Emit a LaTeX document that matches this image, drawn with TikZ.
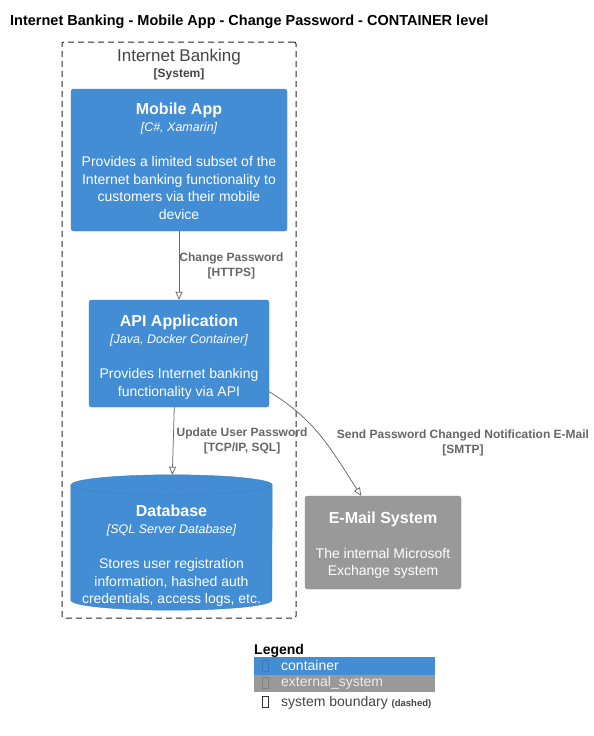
\documentclass[tikz,border=0pt]{standalone}
\usepackage{fontspec}
\setmainfont{Liberation Sans}
\usetikzlibrary{arrows.meta,positioning}

\definecolor{ctrfill}{HTML}{438DD5}
\definecolor{ctrline}{HTML}{3C7FC0}
\definecolor{extfill}{HTML}{999999}
\definecolor{extline}{HTML}{8A8A8A}
\definecolor{relgrey}{HTML}{666666}
\definecolor{bndgrey}{HTML}{444444}

\newcommand\boxtitle[1]{{\fontsize{16}{17.5}\selectfont\bfseries #1}}
\newcommand\boxtech[1]{{\fontsize{12.5}{17.5}\selectfont\itshape [#1]}}

\tikzset{
  container/.style={draw=ctrline, fill=ctrfill, rounded corners=2.5pt, inner sep=0pt},
  extsystem/.style={container, draw=extline, fill=extfill},
  boxtext/.style={text=white, align=center, inner sep=0pt, font=\fontsize{14}{17.5}\selectfont},
  rel/.style={color=relgrey, line width=0.75pt, -{Triangle[open, length=8pt, width=7pt]}},
  rellabel/.style={text=relgrey, align=center, inner sep=0pt,
    font=\fontsize{12}{15}\selectfont\bfseries},
  legrow/.style={minimum width=181pt, minimum height=17.5pt, inner sep=0pt, anchor=north west},
  legtext/.style={anchor=west, inner sep=0pt, font=\fontsize{14}{16}\selectfont},
  glyph/.style={draw, minimum width=6pt, minimum height=11pt, inner sep=0pt, line width=0.6pt},
}

\begin{document}
\begin{tikzpicture}[x=1pt, y=-1pt]
  \path[use as bounding box] (0,0) rectangle (594,736);

  \node[anchor=base west, inner sep=0pt, font=\fontsize{14.5}{16}\selectfont\bfseries] (title)
    at (10,25) {Internet Banking - Mobile App - Change Password - CONTAINER level};

  % system boundary
  \node[draw=black!85, line width=1pt, dash pattern=on 6pt off 4pt, rounded corners=2pt,
    minimum width=234pt, minimum height=576pt, inner sep=0pt] (ib) at (179,330) {};
  \node[anchor=base, inner sep=0pt, text=bndgrey, font=\fontsize{17}{18}\selectfont] (ibname)
    at (179,61) {Internet Banking};
  \node[anchor=base, inner sep=0pt, text=bndgrey, font=\fontsize{12}{14}\selectfont\bfseries] (ibtype)
    at (179,77) {[System]};

  % containers
  \node[container, minimum width=216pt, minimum height=142pt] (mobile) at (179,160) {};
  \node[boxtext] (mobiletext) at ([yshift=-1pt]mobile.center)
    {\boxtitle{Mobile App}\\ \boxtech{C\#, Xamarin}\\[17.5pt]
     Provides a limited subset of the\\ Internet banking functionality to\\
     customers via their mobile\\ device};

  \node[container, minimum width=180pt, minimum height=107pt] (api) at (179,353.5) {};
  \node[boxtext] (apitext) at ([yshift=-3.5pt]api.center)
    {\boxtitle{API Application}\\ \boxtech{Java, Docker Container}\\[17.5pt]
     Provides Internet banking\\ functionality via API};

  \node[minimum width=201pt, minimum height=135pt, inner sep=0pt] (db) at (171.5,542.5) {};
  \path[fill=ctrfill, draw=ctrline] ([yshift=-10pt]db.north west) -- ([yshift=10pt]db.south west)
    arc[start angle=180, end angle=360, x radius=100.5pt, y radius=10pt]
    -- ([yshift=-10pt]db.north east)
    arc[start angle=0, end angle=180, x radius=100.5pt, y radius=10pt] -- cycle;
  \draw[ctrline] ([yshift=-10pt]db.north west)
    arc[start angle=180, end angle=360, x radius=100.5pt, y radius=10pt];
  \node[boxtext] (dbtext) at ([yshift=-13pt]db.center)
    {\boxtitle{Database}\\ \boxtech{SQL Server Database}\\[17.5pt]
     Stores user registration\\ information, hashed auth\\ credentials, access logs, etc.};

  \node[extsystem, minimum width=156pt, minimum height=93pt] (email) at (383,542.5) {};
  \node[boxtext] (emailtext) at ([yshift=-2.5pt]email.center)
    {\boxtitle{E-Mail System}\\[17.5pt] The internal Microsoft\\ Exchange system};

  % relations
  \path[rel]
    (mobile) edge node[rellabel, anchor=west, midway] (lblhttps)
      {Change Password\\ {[HTTPS]}} (api)
    ([xshift=-4.7pt]api.south) edge node[rellabel, anchor=west, midway, xshift=3pt] (lblsql)
      {Update User Password\\ {[TCP/IP, SQL]}} ([xshift=0.8pt]db.north)
    (api.-23) edge[out=-31, in=123] (email.115)
  ;
  \node[rellabel] (lblsmtp) at (463,442.5)
    {Send Password Changed Notification E-Mail\\ {[SMTP]}};

  % legend
  \node[anchor=base west, inner sep=0pt, font=\fontsize{14}{16}\selectfont\bfseries] (legtitle)
    at (254,654) {Legend};
  \node[legrow, fill=ctrfill] (legctr) at (254,657) {};
  \node[legrow, fill=extfill, minimum height=17pt] (legext) at (254,674.5) {};
  \node[glyph, draw=ctrfill!85!black] (glyctr) at (265,666) {};
  \node[glyph, draw=extfill!85!black] (glyext) at (265,683) {};
  \node[glyph, draw=black!80] (glybnd) at (265,701.5) {};
  \node[legtext, text=white] (txtctr) at ([xshift=27pt]legctr.west) {container};
  \node[legtext, text=white!92!black] (txtext) at ([xshift=27pt]legext.west) {external\_system};
  \node[anchor=base west, inner sep=0pt, text=bndgrey, font=\fontsize{14}{16}\selectfont] (txtbnd)
    at (281,706) {system boundary {\fontsize{9.5}{10}\selectfont\bfseries(dashed)}};
\end{tikzpicture}
\end{document}
